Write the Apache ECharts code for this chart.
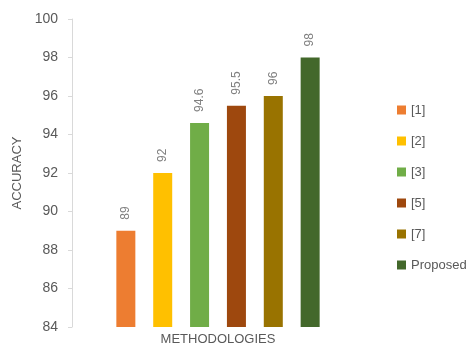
<!DOCTYPE html>
<html>
<head>
<meta charset="utf-8">
<script src="https://cdn.jsdelivr.net/npm/echarts@6/dist/echarts.min.js"></script>
<style>html,body{margin:0;padding:0;background:#fff}#c{width:471px;height:347px}</style>
</head>
<body>
<div id="c"></div>
<script>
var seriesNames = ['[1]', '[2]', '[3]', '[5]', '[7]', 'Proposed'];
var accuracy = [89, 92, 94.6, 95.5, 96, 98];
var colors = ['#ED7D31', '#FFC000', '#70AD47', '#9E480E', '#997300', '#43682B'];
var yTicks = [84, 86, 88, 90, 92, 94, 96, 98, 100];
var FONT = 'Liberation Sans';

var chart = echarts.init(document.getElementById('c'));
var series = seriesNames.map(function (n, i) {
  return {
    name: n,
    type: 'bar',
    data: [accuracy[i]],
    barWidth: 19,
    barGap: '94%',
    itemStyle: { color: colors[i] },
    label: {
      show: true,
      position: 'top',
      rotate: 90,
      align: 'left',
      verticalAlign: 'middle',
      distance: 11,
      color: '#808080',
      fontFamily: FONT,
      fontSize: 12
    }
  };
});
chart.setOption({
  animation: false,
  color: colors,
  grid: { left: 72, right: 107, top: 19, bottom: 20, containLabel: false, outerBoundsMode: 'none' },
  xAxis: {
    type: 'category',
    data: [''],
    axisLine: { show: false },
    axisTick: { show: false },
    axisLabel: { show: false },
    name: 'METHODOLOGIES',
    nameLocation: 'middle',
    nameGap: 6,
    nameTextStyle: { color: '#595959', fontFamily: FONT, fontSize: 13, verticalAlign: 'top' }
  },
  yAxis: {
    type: 'value',
    min: yTicks[0],
    max: yTicks[yTicks.length - 1],
    interval: 2,
    axisLine: { show: true, lineStyle: { color: '#D9D9D9' } },
    axisTick: { show: true, length: 4, lineStyle: { color: '#D9D9D9' } },
    splitLine: { show: false },
    axisLabel: { color: '#595959', fontFamily: FONT, fontSize: 14, margin: 14 },
    name: 'ACCURACY',
    nameLocation: 'middle',
    nameGap: 47,
    nameTextStyle: { color: '#595959', fontFamily: FONT, fontSize: 13 }
  },
  legend: {
    orient: 'vertical',
    left: 392,
    top: 98,
    itemWidth: 9,
    itemHeight: 9,
    itemGap: 17,
    icon: 'rect',
    textStyle: { color: '#595959', fontFamily: FONT, fontSize: 13, lineHeight: 14 },
    data: seriesNames
  },
  series: series
});
</script>
</body>
</html>
